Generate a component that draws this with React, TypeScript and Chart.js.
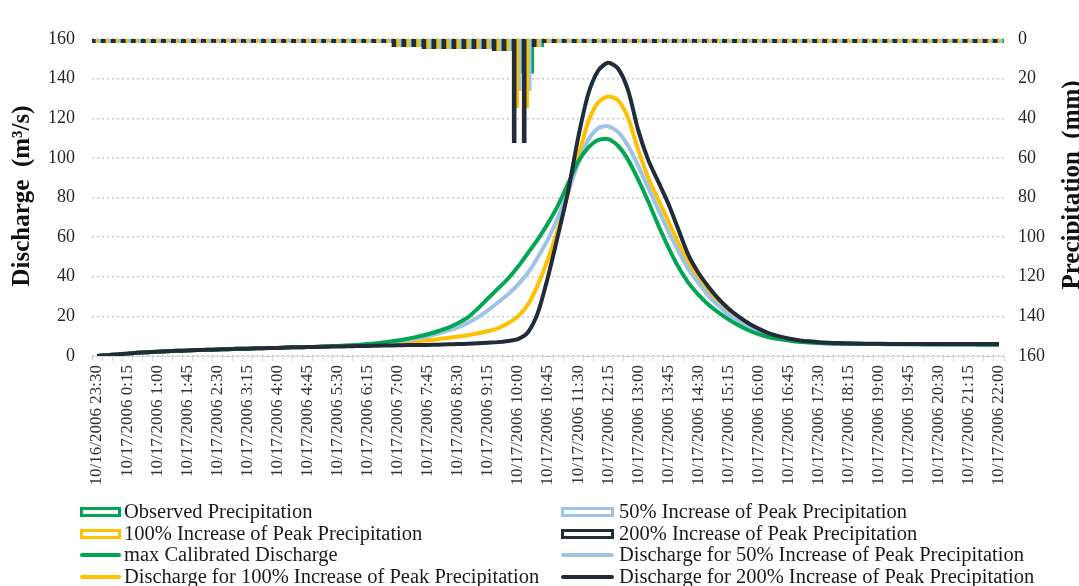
import React, { useEffect, useRef } from 'react';
import { Chart, registerables } from 'chart.js';

Chart.register(...registerables);

const SERIF = "'Liberation Serif', 'Times New Roman', serif";

const TIMES_17 = [
  '0:00', '0:15', '0:30', '0:45', '1:00', '1:15', '1:30', '1:45', '2:00', '2:15', '2:30', '2:45',
  '3:00', '3:15', '3:30', '3:45', '4:00', '4:15', '4:30', '4:45', '5:00', '5:15', '5:30', '5:45',
  '6:00', '6:15', '6:30', '6:45', '7:00', '7:15', '7:30', '7:45', '8:00', '8:15', '8:30', '8:45',
  '9:00', '9:15', '9:30', '9:45', '10:00', '10:15', '10:30', '10:45', '11:00', '11:15', '11:30', '11:45',
  '12:00', '12:15', '12:30', '12:45', '13:00', '13:15', '13:30', '13:45', '14:00', '14:15', '14:30', '14:45',
  '15:00', '15:15', '15:30', '15:45', '16:00', '16:15', '16:30', '16:45', '17:00', '17:15', '17:30', '17:45',
  '18:00', '18:15', '18:30', '18:45', '19:00', '19:15', '19:30', '19:45', '20:00', '20:15', '20:30', '20:45',
  '21:00', '21:15', '21:30', '21:45', '22:00',
];

const CATEGORIES = ['10/16/2006 23:30', '10/16/2006 23:45', ...TIMES_17.map((t) => '10/17/2006 ' + t)];

// Precipitation (mm), right axis (reversed)
const PRECIP_OBS = [
  0, 0, 0, 0, 0, 0, 0, 0, 0, 0,
  0, 0, 0, 0, 0, 0, 0, 0, 0, 0,
  0, 0, 0, 0, 0, 0, 0, 0, 0, 0,
  4, 4, 4, 5, 5, 5, 5, 5, 5, 5,
  6, 6, 17.5, 17.5, 4, 0, 0, 0, 0, 0,
  0, 0, 0, 0, 0, 0, 0, 0, 0, 0,
  0, 0, 0, 0, 0, 0, 0, 0, 0, 0,
  0, 0, 0, 0, 0, 0, 0, 0, 0, 0,
  0, 0, 0, 0, 0, 0, 0, 0, 0, 0, 0,
];
const PRECIP_50 = [
  0, 0, 0, 0, 0, 0, 0, 0, 0, 0,
  0, 0, 0, 0, 0, 0, 0, 0, 0, 0,
  0, 0, 0, 0, 0, 0, 0, 0, 0, 0,
  4, 4, 4, 5, 5, 5, 5, 5, 5, 5,
  6, 6, 26.25, 26.25, 4, 0, 0, 0, 0, 0,
  0, 0, 0, 0, 0, 0, 0, 0, 0, 0,
  0, 0, 0, 0, 0, 0, 0, 0, 0, 0,
  0, 0, 0, 0, 0, 0, 0, 0, 0, 0,
  0, 0, 0, 0, 0, 0, 0, 0, 0, 0, 0,
];
const PRECIP_100 = [
  0, 0, 0, 0, 0, 0, 0, 0, 0, 0,
  0, 0, 0, 0, 0, 0, 0, 0, 0, 0,
  0, 0, 0, 0, 0, 0, 0, 0, 0, 0,
  4, 4, 4, 5, 5, 5, 5, 5, 5, 5,
  6, 6, 35, 35, 4, 0, 0, 0, 0, 0,
  0, 0, 0, 0, 0, 0, 0, 0, 0, 0,
  0, 0, 0, 0, 0, 0, 0, 0, 0, 0,
  0, 0, 0, 0, 0, 0, 0, 0, 0, 0,
  0, 0, 0, 0, 0, 0, 0, 0, 0, 0, 0,
];
const PRECIP_200 = [
  0, 0, 0, 0, 0, 0, 0, 0, 0, 0,
  0, 0, 0, 0, 0, 0, 0, 0, 0, 0,
  0, 0, 0, 0, 0, 0, 0, 0, 0, 0,
  4, 4, 4, 5, 5, 5, 5, 5, 5, 5,
  6, 6, 52.5, 52.5, 4, 0, 0, 0, 0, 0,
  0, 0, 0, 0, 0, 0, 0, 0, 0, 0,
  0, 0, 0, 0, 0, 0, 0, 0, 0, 0,
  0, 0, 0, 0, 0, 0, 0, 0, 0, 0,
  0, 0, 0, 0, 0, 0, 0, 0, 0, 0, 0,
];

// Discharge (m3/s), left axis
const Q_CALIBRATED = [
  0, 0.4, 0.8, 1.2, 1.6, 1.9, 2.2, 2.4, 2.6, 2.8,
  3.0, 3.1, 3.3, 3.4, 3.6, 3.7, 3.9, 4.0, 4.1, 4.3,
  4.4, 4.5, 4.7, 4.9, 5.1, 5.3, 5.6, 6.0, 6.5, 7.1,
  7.8, 8.7, 9.8, 11.0, 12.5, 14.2, 16.5, 19.5, 24, 29,
  34, 39, 45, 52, 59, 67, 76, 87, 98, 105,
  109, 109.5, 106, 99, 89, 78, 66, 55, 45, 37,
  31, 26, 22, 18.5, 15.5, 13, 11, 9.6, 8.6, 7.8,
  7.2, 6.8, 6.5, 6.3, 6.2, 6.1, 6.0, 6.0, 6.0, 5.9,
  5.9, 5.9, 5.9, 5.8, 5.8, 5.8, 5.8, 5.8, 5.7, 5.7, 5.7,
];
const Q_50 = [
  0, 0.4, 0.8, 1.2, 1.6, 1.9, 2.2, 2.4, 2.6, 2.8,
  3.0, 3.1, 3.3, 3.4, 3.6, 3.7, 3.9, 4.0, 4.1, 4.3,
  4.4, 4.5, 4.7, 4.9, 5.1, 5.3, 5.5, 5.9, 6.3, 6.8,
  7.4, 8.1, 9.0, 10.0, 11.3, 12.8, 14.5, 16.7, 19.5, 23,
  27, 31, 36, 42, 50, 59, 70, 83, 97, 109,
  115, 116, 113, 106, 96, 85, 74, 63, 53, 44,
  37, 30.5, 25.5, 21, 17.5, 14.5, 12.3, 10.5, 9.2, 8.2,
  7.5, 7.0, 6.6, 6.4, 6.3, 6.2, 6.1, 6.1, 6.0, 6.0,
  6.0, 5.9, 5.9, 5.9, 5.9, 5.8, 5.8, 5.8, 5.8, 5.8, 5.8,
];
const Q_100 = [
  0, 0.4, 0.8, 1.2, 1.6, 1.9, 2.2, 2.4, 2.6, 2.8,
  3.0, 3.1, 3.3, 3.4, 3.6, 3.7, 3.9, 4.0, 4.1, 4.3,
  4.4, 4.5, 4.7, 4.9, 5.0, 5.2, 5.4, 5.6, 5.9, 6.2,
  6.6, 7.0, 7.4, 7.9, 8.5, 9.1, 9.8, 10.5, 11.5, 12.5,
  14, 16.5, 20, 26, 36, 49, 64, 82, 100, 118,
  128, 131, 129, 120, 104, 90, 79, 68, 57, 47,
  39, 32.5, 27, 22, 18.5, 15.3, 12.8, 11, 9.5, 8.5,
  7.7, 7.2, 6.8, 6.5, 6.4, 6.3, 6.2, 6.1, 6.1, 6.0,
  6.0, 6.0, 6.0, 5.9, 5.9, 5.9, 5.9, 5.9, 5.9, 5.9, 5.9,
];
const Q_200 = [
  0, 0.4, 0.8, 1.2, 1.6, 1.9, 2.2, 2.4, 2.6, 2.8,
  3.0, 3.1, 3.3, 3.4, 3.6, 3.7, 3.9, 4.0, 4.1, 4.3,
  4.4, 4.5, 4.6, 4.7, 4.8, 4.9, 5.0, 5.1, 5.2, 5.3,
  5.4, 5.5, 5.5, 5.6, 5.7, 5.9, 6.0, 6.2, 6.4, 6.7,
  7.0, 7.6, 8.5, 12, 22, 40, 61, 83, 110, 132,
  144, 148, 145, 134, 114, 99, 88, 77, 64, 51,
  42, 35, 29, 24, 20, 16.5, 13.8, 11.6, 10, 8.8,
  8.0, 7.4, 7.0, 6.7, 6.5, 6.4, 6.3, 6.2, 6.2, 6.1,
  6.1, 6.1, 6.0, 6.0, 6.0, 6.0, 6.0, 6.0, 6.0, 6.0, 6.0,
];

const SERIES_NAMES = [
  'Observed Precipitation',
  '50% Increase of Peak Precipitation',
  '100% Increase of Peak Precipitation',
  '200% Increase of Peak Precipitation',
  'max Calibrated Discharge',
  'Discharge for 50% Increase of Peak Precipitation',
  'Discharge for 100% Increase of Peak Precipitation',
  'Discharge for 200% Increase of Peak Precipitation',
];

const GREEN = '#00a651';
const BLUE = '#9dc3e6';
const YELLOW = '#ffc000';
const DARK = '#222b3a';

const Y_TICKS = [0, 20, 40, 60, 80, 100, 120, 140, 160];

const overlayPlugin = {
  id: 'overlay',
  afterDraw(chart: any) {
    const ctx = chart.ctx as CanvasRenderingContext2D;
    ctx.save();
    // axis titles
    ctx.fillStyle = '#111';
    ctx.font = `bold 25px ${SERIF}`;
    ctx.textAlign = 'center';
    ctx.textBaseline = 'middle';
    ctx.save();
    ctx.translate(23, 196);
    ctx.rotate(-Math.PI / 2);
    ctx.fillText('Discharge  (m\u00b3/s)', 0, 0);
    ctx.restore();
    ctx.save();
    ctx.translate(1073, 185);
    ctx.rotate(-Math.PI / 2);
    ctx.fillText('Precipitation  (mm)', 0, 0);
    ctx.restore();

    // legend
    const colX = [[80, 121, 124], [561, 614, 619]];
    const rowY = [512, 534, 555, 577];
    ctx.font = `20.5px ${SERIF}`;
    ctx.textAlign = 'left';
    chart.data.datasets.forEach((ds: any, k: number) => {
      const [x0, x1, tx] = colX[k % 2];
      const y = rowY[Math.floor(k / 2)];
      if (ds.type === 'bar') {
        ctx.fillStyle = '#fff';
        ctx.fillRect(x0, y - 5, x1 - x0, 10);
        ctx.strokeStyle = ds.borderColor;
        ctx.lineWidth = 3;
        ctx.strokeRect(x0 + 1.5, y - 5 + 1.5, x1 - x0 - 3, 7);
      } else {
        ctx.strokeStyle = ds.borderColor;
        ctx.lineWidth = 4;
        ctx.lineCap = 'round';
        ctx.beginPath();
        ctx.moveTo(x0 + 2, y);
        ctx.lineTo(x1 - 2, y);
        ctx.stroke();
      }
      ctx.fillStyle = '#1a1a1a';
      ctx.fillText(ds.label, tx, y + 1);
    });
    ctx.restore();
  },
};

export default function App() {
  const ref = useRef<HTMLCanvasElement>(null);

  useEffect(() => {
    const canvas = ref.current;
    if (!canvas) return;
    const barCommon = {
      type: 'bar' as const,
      yAxisID: 'y1',
      backgroundColor: '#ffffff',
      borderWidth: 2.5,
      minBarLength: 8,
      categoryPercentage: 1,
      barPercentage: 2,
    };
    const lineCommon = {
      type: 'line' as const,
      yAxisID: 'y',
      borderWidth: 4,
      pointRadius: 0,
      tension: 0.25,
      fill: false,
      borderJoinStyle: 'round' as const,
    };
    const chart = new Chart(canvas, {
      type: 'bar',
      data: {
        labels: CATEGORIES,
        datasets: [
          { ...barCommon, label: SERIES_NAMES[0], data: PRECIP_OBS, borderColor: GREEN, order: 7 },
          { ...barCommon, label: SERIES_NAMES[1], data: PRECIP_50, borderColor: BLUE, order: 6 },
          { ...barCommon, label: SERIES_NAMES[2], data: PRECIP_100, borderColor: YELLOW, order: 5 },
          { ...barCommon, label: SERIES_NAMES[3], data: PRECIP_200, borderColor: DARK, order: 4 },
          { ...lineCommon, label: SERIES_NAMES[4], data: Q_CALIBRATED, borderColor: GREEN, order: 1 },
          { ...lineCommon, label: SERIES_NAMES[5], data: Q_50, borderColor: BLUE, order: 2 },
          { ...lineCommon, label: SERIES_NAMES[6], data: Q_100, borderColor: YELLOW, order: 3 },
          { ...lineCommon, label: SERIES_NAMES[7], data: Q_200, borderColor: DARK, order: 0 },
        ] as any,
      },
      options: {
        responsive: false,
        animation: false,
        layout: { padding: { top: 39, bottom: 90, left: 0, right: 0 } },
        plugins: { legend: { display: false }, tooltip: { enabled: false } },
        scales: {
          x: {
            type: 'category',
            offset: true,
            grid: { display: true, drawOnChartArea: false, drawTicks: true, tickLength: 5, color: '#d6d6d6', offset: true },
            border: { display: true, color: '#d6d6d6' },
            ticks: {
              autoSkip: false,
              minRotation: 90,
              maxRotation: 90,
              padding: 4,
              color: '#333',
              font: { family: SERIF, size: 17 },
              callback: (_v: any, i: number) => (i % 3 === 0 ? CATEGORIES[i] : ''),
            },
            afterFit: (s: any) => { s.height = 140; },
          },
          y: {
            type: 'linear',
            position: 'left',
            min: 0,
            max: 160,
            afterBuildTicks: (s: any) => { s.ticks = Y_TICKS.map((v) => ({ value: v })); },
            grid: { color: '#c9c9c9', lineWidth: 1.5, drawTicks: false },
            border: { display: false, dash: [2, 3] },
            ticks: { padding: 17, color: '#262626', font: { family: SERIF, size: 18 } },
            afterFit: (s: any) => { s.width = 92; },
          },
          y1: {
            type: 'linear',
            position: 'right',
            reverse: true,
            min: 0,
            max: 160,
            afterBuildTicks: (s: any) => { s.ticks = Y_TICKS.map((v) => ({ value: v })); },
            grid: { display: false, drawTicks: false },
            border: { display: false },
            ticks: { padding: 14, color: '#262626', font: { family: SERIF, size: 18 } },
            afterFit: (s: any) => { s.width = 75; },
          },
        },
      } as any,
      plugins: [overlayPlugin],
    });
    return () => chart.destroy();
  }, []);

  return (
    <div style={{ position: 'absolute', left: 0, top: 0, width: 1079, height: 586, background: '#fff' }}>
      <canvas ref={ref} width={1079} height={586} style={{ display: 'block' }} />
    </div>
  );
}
